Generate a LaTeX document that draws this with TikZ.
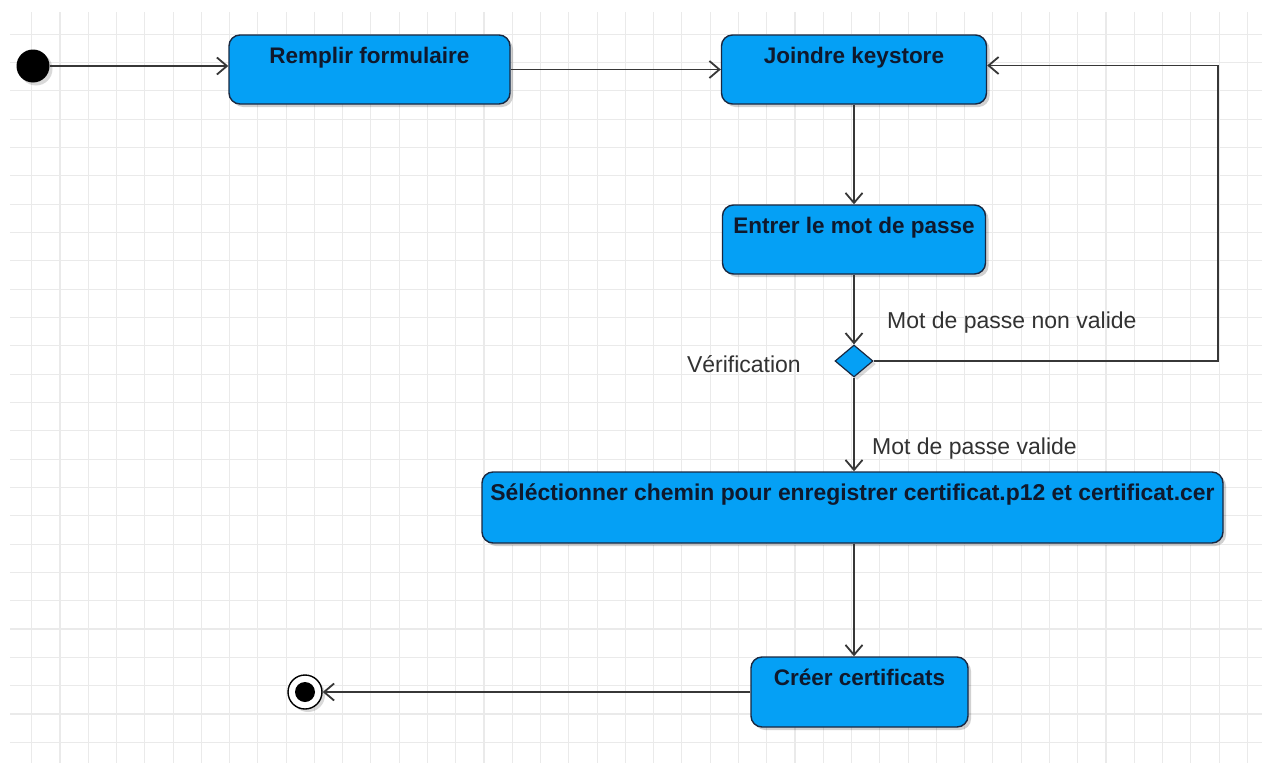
\documentclass[tikz,border=0pt]{standalone}
\usepackage{fontspec}
\setmainfont{Liberation Sans}
\usetikzlibrary{arrows.meta,shapes.geometric,shadows}
\definecolor{boxblue}{RGB}{5,160,245}
\definecolor{boxline}{RGB}{25,40,65}
\definecolor{boxtext}{RGB}{15,25,45}
\definecolor{lblue}{RGB}{50,50,50}
\definecolor{arrcol}{RGB}{55,55,55}
\definecolor{gridcol}{RGB}{234,234,234}
\tikzset{
  gridline/.style={draw=gridcol, line width=1.1pt},
  actbox/.style={draw=boxline, fill=boxblue, line width=1.4pt, rounded corners=11pt,
    minimum height=69pt, inner ysep=12pt, text height=16.5pt, text depth=28.5pt,
    text=boxtext, font=\fontsize{22.5}{27}\selectfont\bfseries,
    drop shadow={shadow xshift=3pt, shadow yshift=-3pt, fill=black, opacity=0.18}},
  arr/.style={draw=arrcol, line width=1.8pt, -{Straight Barb[length=10pt,width=17pt]}},
  lbl/.style={text=lblue, font=\fontsize{23}{28}\selectfont, inner sep=0pt},
  decision/.style={diamond, draw=boxline, fill=boxblue, line width=1.2pt, inner sep=0pt,
    minimum width=38pt, minimum height=32pt,
    drop shadow={shadow xshift=3pt, shadow yshift=-3pt, fill=black, opacity=0.15}},
}
\begin{document}
\begin{tikzpicture}[x=1pt,y=-1pt]
\useasboundingbox (0,0) rectangle (1262,763);
\fill[white] (0,0) rectangle (1262,763);
% grid
\foreach \i in {0,...,43} \draw[gridline] ({31.7+28.27*\i},12) -- ({31.7+28.27*\i},763);
\foreach \j in {0,...,25} \draw[gridline] (10,{34.3+28.32*\j}) -- (1262,{34.3+28.32*\j});
% nodes
\node[circle, fill=black, minimum size=33pt, inner sep=0pt,
  drop shadow={shadow xshift=3pt, shadow yshift=-3pt, fill=black, opacity=0.15}] (s) at (33,66) {};
\node[actbox, minimum width=281pt] (b1) at (369.5,69.5) {Remplir formulaire};
\node[actbox, minimum width=265pt] (b2) at (854,69.5) {Joindre keystore};
\node[actbox, minimum width=263pt] (b3) at (854,239.5) {Entrer le mot de passe};
\node[decision] (d) at (854,361) {};
\node[actbox, minimum width=741pt, minimum height=71pt, text depth=30.5pt,
  font=\fontsize{22.9}{27}\selectfont\bfseries] (b4) at (852.5,507.5) {Séléctionner chemin pour enregistrer certificat.p12 et certificat.cer};
\node[actbox, minimum width=217pt, minimum height=70pt, text depth=29.5pt] (b5) at (859.5,692) {Créer certificats};
\node[circle, draw=black, fill=white, line width=1.4pt, minimum size=34pt, inner sep=0pt,
  drop shadow={shadow xshift=3pt, shadow yshift=-3pt, fill=black, opacity=0.15}] (e) at (305,692) {};
\node[circle, fill=black, minimum size=20pt, inner sep=0pt] (ei) at (e.center) {};
% labels
\node[lbl, anchor=west] (l1) at (887,323) {Mot de passe non valide};
\node[lbl, anchor=east] (l2) at (801,364) {Vérification};
\node[lbl, anchor=west] (l3) at (872,449) {Mot de passe valide};
% connectors
\coordinate (lp) at (1218,361);
\draw[arr] (s) -- (b1.west |- s);
\draw[arr] (b1.east) -- (b2.west);
\draw[arr] (b2.south) -- (b3.north);
\draw[arr] (b3.south) -- (d.north);
\draw[arr] (d.south) -- (b4.north -| d);
\draw[arr] (b4.south -| d) -- (b5.north -| d);
\draw[arr] (b5.west) -- (e.east);
\draw[arr] (d.east) -- (lp) |- ([yshift=4pt]b2.east);
\end{tikzpicture}
\end{document}
